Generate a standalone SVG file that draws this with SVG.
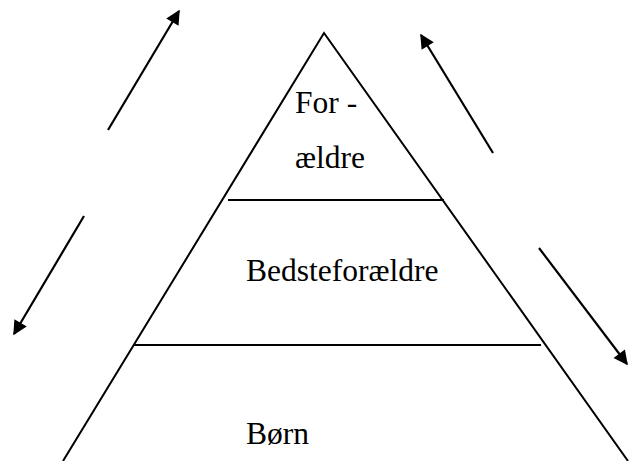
<svg xmlns="http://www.w3.org/2000/svg" width="629" height="461" viewBox="0 0 629 461">
<style>
.ln{stroke:#000;stroke-width:2;fill:none}
.ar{stroke:#000;stroke-width:2.2;fill:none;marker-end:url(#ah)}
.t{font-family:"Liberation Serif","Times New Roman",serif;font-size:31.5px;fill:#000}
</style>
<defs>
<marker id="ah" viewBox="0 0 10 10" refX="9" refY="5" markerWidth="7" markerHeight="6.5" markerUnits="strokeWidth" orient="auto">
<path d="M0,0 L10,5 L0,10 z" fill="#000"/>
</marker>
</defs>
<rect width="629" height="461" fill="#fff"/>
<g id="pyramid">
<path class="ln" d="M63,461 L324,33 L628,461"/>
<line class="ln" x1="228" y1="200" x2="444" y2="200"/>
<line class="ln" x1="133" y1="345" x2="541" y2="345"/>
</g>
<g id="node-foraeldre">
<text class="t" x="295" y="113">For -</text>
<text class="t" x="295" y="168">ældre</text>
</g>
<g id="node-bedsteforaeldre">
<text class="t" x="246" y="281">Bedsteforældre</text>
</g>
<g id="node-born">
<text class="t" x="246" y="444">Børn</text>
</g>
<g id="connectors">
<line class="ar" x1="108" y1="130" x2="179" y2="11"/>
<line class="ar" x1="493" y1="153" x2="421" y2="35"/>
<line class="ar" x1="84" y1="216" x2="14" y2="334"/>
<line class="ar" x1="539" y1="248" x2="627" y2="364"/>
</g>
</svg>
